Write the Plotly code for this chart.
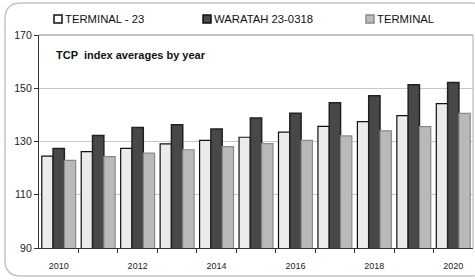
import plotly.graph_objects as go

years = list(range(2010, 2021))
terminal_23 = [124.5, 126.2, 127.4, 129.1, 130.4, 131.6, 133.5, 135.7, 137.5, 139.7, 144.2]
waratah = [127.4, 132.3, 135.3, 136.3, 134.7, 138.8, 140.6, 144.6, 147.2, 151.3, 152.2]
terminal = [122.9, 124.3, 125.6, 126.9, 128.1, 129.2, 130.4, 132.1, 134.0, 135.6, 140.6]
series_names = ["TERMINAL - 23", "WARATAH 23-0318", "TERMINAL"]
x_tick_labels = ["2010", "2012", "2014", "2016", "2018", "2020"]
y_ticks = [90, 110, 130, 150, 170]

FONT = "Liberation Sans, Arial, sans-serif"

L, R, T, B = 39, 473, 35, 248
W, H = 475, 280
pw, ph = R - L, B - T

def px_to_paper(x, y):
    return (x - L) / pw, (B - y) / ph

fig = go.Figure()
styles = [
    dict(color="#ebebeb", line=dict(color="#111111", width=1.2)),
    dict(color="#484848", line=dict(color="#222222", width=1.5)),
    dict(color="#b9b9b9", line=dict(color="#8a8a8a", width=1.2)),
]
for name, vals, st in zip(series_names, [terminal_23, waratah, terminal], styles):
    fig.add_trace(go.Bar(x=years, y=vals, name=name, marker=st, showlegend=False))

# rounded frame
x0, y0, x1, y1, r = 5, 3, 488, 276, 16
def P(x, y):
    a, b = px_to_paper(x, y)
    return f"{a:.5f},{b:.5f}"
path = (f"M {P(x0, y0 + r)} Q {P(x0, y0)} {P(x0 + r, y0)} L {P(x1 - r, y0)} "
        f"Q {P(x1, y0)} {P(x1, y0 + r)} L {P(x1, y1 - r)} Q {P(x1, y1)} {P(x1 - r, y1)} "
        f"L {P(x0 + r, y1)} Q {P(x0, y1)} {P(x0, y1 - r)} Z")

shapes = [
    dict(type="path", xref="paper", yref="paper", path=path,
         line=dict(color="#c4c4c4", width=1.5), layer="below"),
    dict(type="line", xref="paper", yref="paper", x0=1, x1=1, y0=0, y1=1,
         line=dict(color="#aaaaaa", width=1)),
    dict(type="line", xref="paper", yref="paper", x0=0, x1=1, y0=1, y1=1,
         line=dict(color="#8a8a8a", width=1.2)),
]
annotations = []

# manual legend
leg_sq = [54, 203, 366]
leg_fill = ["#ffffff", "#4a4a4a", "#bcbcbc"]
leg_line = ["#111111", "#111111", "#8a8a8a"]
for sx, name, fc, lc in zip(leg_sq, series_names, leg_fill, leg_line):
    ax0, ay0 = px_to_paper(sx, 23)
    ax1, ay1 = px_to_paper(sx + 8, 15)
    shapes.append(dict(type="rect", xref="paper", yref="paper", x0=ax0, x1=ax1,
                       y0=ay0, y1=ay1, fillcolor=fc, line=dict(color=lc, width=1.5)))
    tx, ty = px_to_paper(sx + 8.5, 19.5)
    annotations.append(dict(text=name, xref="paper", yref="paper", x=tx, y=ty,
                            xanchor="left", yanchor="middle", showarrow=False,
                            font=dict(family=FONT, size=11.3, color="#111111")))

tx, ty = px_to_paper(54, 55)
annotations.append(dict(text="<b>TCP  index averages by year</b>", xref="paper", yref="paper",
                        x=tx, y=ty, xanchor="left", yanchor="middle", showarrow=False,
                        font=dict(family=FONT, size=11, color="#111111")))

fig.update_layout(
    width=W, height=H,
    margin=dict(l=L, r=W - R, t=T, b=H - B, autoexpand=False),
    paper_bgcolor="white", plot_bgcolor="white",
    barmode="group", bargap=0.14, bargroupgap=0.0,
    font=dict(family=FONT, color="#222222"),
    showlegend=False,
    xaxis=dict(
        range=[2009.5, 2020.5],
        tickvals=[int(t) for t in x_tick_labels], ticktext=x_tick_labels,
        ticks="", ticklabelstandoff=9, tickfont=dict(family=FONT, size=9, color="#222222"),
        showline=True, linecolor="#333333", linewidth=1.2,
        showgrid=False, zeroline=False,
        minor=dict(tickvals=[y - 0.5 for y in years[1:]], ticks="outside",
                   ticklen=4, tickcolor="#333333", tickwidth=1.2, showgrid=False),
    ),
    yaxis=dict(
        range=[90, 170], tickvals=y_ticks, ticks="outside", ticklen=4,
        tickcolor="#333333", tickfont=dict(family=FONT, size=10.5, color="#222222"),
        showline=True, linecolor="#333333", linewidth=1.2,
        showgrid=True, gridcolor="#c8c8c8", gridwidth=1, zeroline=False,
    ),
    shapes=shapes,
    annotations=annotations,
)

fig.write_html("out.html", config={"displayModeBar": False},
               post_script="document.body.style.margin='0';")
